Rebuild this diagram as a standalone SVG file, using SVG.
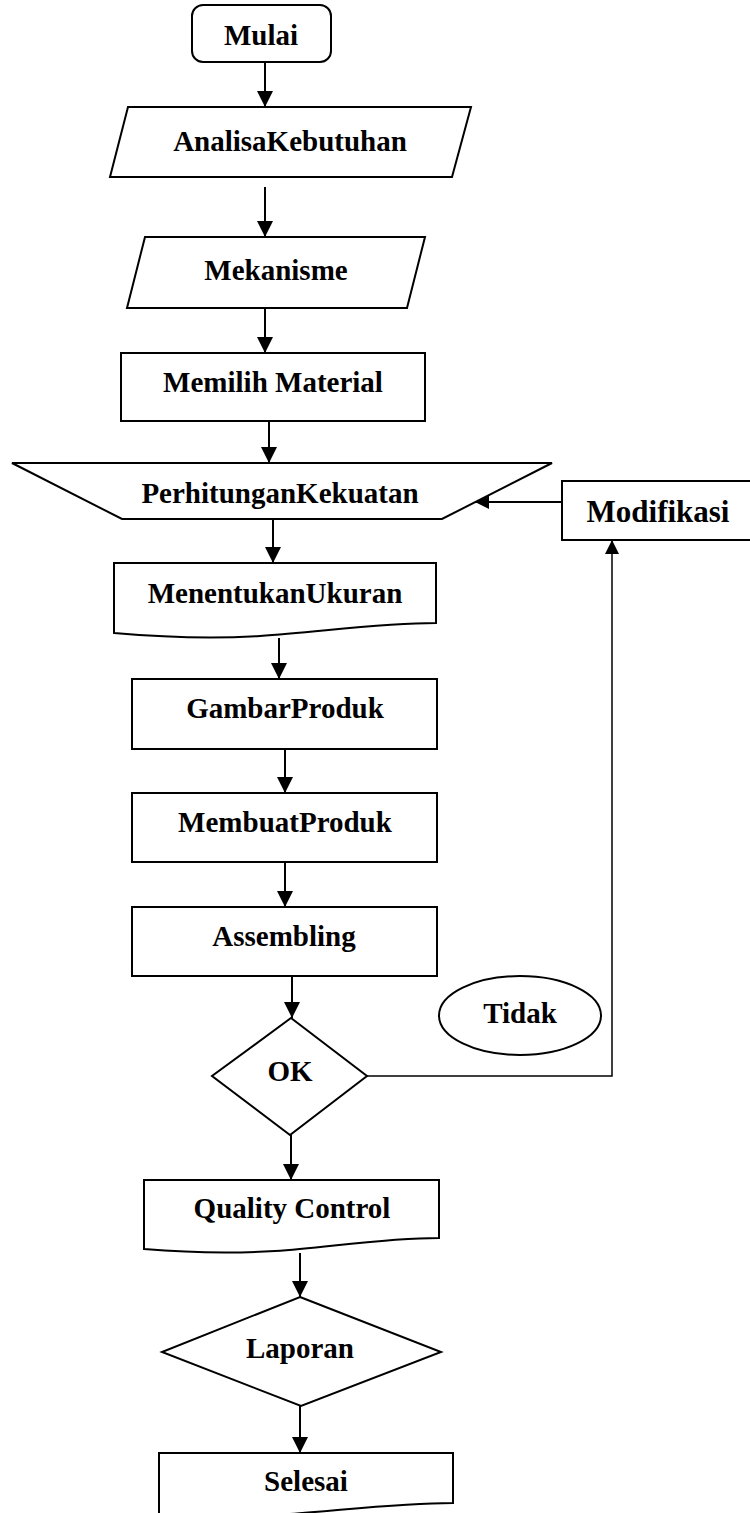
<svg xmlns="http://www.w3.org/2000/svg" width="750" height="1513" viewBox="0 0 750 1513">
  <style>
    .shape { fill: #fff; stroke: #000; stroke-width: 2; }
    .label { font-family: "Liberation Serif", "Times New Roman", serif; font-weight: bold; font-size: 29px; fill: #000; text-anchor: middle; }
    .link { fill: none; stroke: #000; stroke-width: 2; }
    .thin { stroke-width: 1.5; }
  </style>
  <defs>
    <marker id="arrow" markerUnits="userSpaceOnUse" markerWidth="16" markerHeight="16" refX="16" refY="8" orient="auto">
      <path d="M0,0 L16,8 L0,16 Z" fill="#000"/>
    </marker>
    <marker id="arrow-small" markerUnits="userSpaceOnUse" markerWidth="14" markerHeight="14" refX="14" refY="7" orient="auto">
      <path d="M0,0 L14,7 L0,14 Z" fill="#000"/>
    </marker>
  </defs>
  <rect width="750" height="1513" fill="#fff"/>

  <g id="connectors">
    <line class="link" x1="265" y1="63" x2="265" y2="107" marker-end="url(#arrow)"/>
    <line class="link" x1="265" y1="187" x2="265" y2="237" marker-end="url(#arrow)"/>
    <line class="link" x1="265" y1="308" x2="265" y2="353" marker-end="url(#arrow)"/>
    <line class="link" x1="269" y1="421" x2="269" y2="463" marker-end="url(#arrow)"/>
    <line class="link" x1="273" y1="519" x2="273" y2="563" marker-end="url(#arrow)"/>
    <line class="link" x1="279" y1="638" x2="279" y2="679" marker-end="url(#arrow)"/>
    <line class="link" x1="285" y1="749" x2="285" y2="793" marker-end="url(#arrow)"/>
    <line class="link" x1="285" y1="862" x2="285" y2="907" marker-end="url(#arrow)"/>
    <line class="link" x1="292" y1="976" x2="292" y2="1018" marker-end="url(#arrow)"/>
    <line class="link" x1="291" y1="1135" x2="291" y2="1180" marker-end="url(#arrow)"/>
    <line class="link" x1="300" y1="1253" x2="300" y2="1297" marker-end="url(#arrow)"/>
    <line class="link" x1="300" y1="1406" x2="300" y2="1453" marker-end="url(#arrow)"/>
    <!-- rejection loop: OK -> Modifikasi -> Perhitungan Kekuatan -->
    <path class="link thin" d="M367,1076 H612 V540" marker-end="url(#arrow-small)"/>
    <line class="link" x1="562" y1="502" x2="475" y2="502" marker-end="url(#arrow-small)"/>
  </g>

  <g id="mulai">
    <rect class="shape" x="192" y="5" width="139" height="57" rx="11"/>
    <text class="label" x="261" y="45">Mulai</text>
  </g>

  <g id="analisa-kebutuhan">
    <polygon class="shape" points="128,107 471,107 452,177 110,177"/>
    <text class="label" x="290" y="151">AnalisaKebutuhan</text>
  </g>

  <g id="mekanisme">
    <polygon class="shape" points="145,237 425,237 407,308 127,308"/>
    <text class="label" x="276" y="280">Mekanisme</text>
  </g>

  <g id="memilih-material">
    <rect class="shape" x="121" y="353" width="304" height="68"/>
    <text class="label" x="273" y="392">Memilih Material</text>
  </g>

  <g id="perhitungan-kekuatan">
    <polygon class="shape" points="12,463 552,463 442,519 122,519"/>
    <text class="label" x="280" y="503">PerhitunganKekuatan</text>
  </g>

  <g id="modifikasi">
    <rect class="shape" x="562" y="481" width="200" height="59"/>
    <text class="label" x="658" y="522" style="font-size:31px">Modifikasi</text>
  </g>

  <g id="menentukan-ukuran">
    <path class="shape" d="M114,563 H436 V623 C380,623 320,632 260,636 C210,639 160,637 114,633 Z"/>
    <text class="label" x="275" y="603">MenentukanUkuran</text>
  </g>

  <g id="gambar-produk">
    <rect class="shape" x="132" y="679" width="305" height="70"/>
    <text class="label" x="285" y="718">GambarProduk</text>
  </g>

  <g id="membuat-produk">
    <rect class="shape" x="132" y="793" width="305" height="69"/>
    <text class="label" x="285" y="832">MembuatProduk</text>
  </g>

  <g id="assembling">
    <rect class="shape" x="132" y="907" width="305" height="69"/>
    <text class="label" x="284" y="946">Assembling</text>
  </g>

  <g id="ok">
    <polygon class="shape" points="291,1018 367,1076 290,1135 212,1076"/>
    <text class="label" x="290" y="1081">OK</text>
  </g>

  <g id="tidak">
    <ellipse class="shape" cx="520" cy="1015.5" rx="81" ry="39.5"/>
    <text class="label" x="520" y="1023">Tidak</text>
  </g>

  <g id="quality-control">
    <path class="shape" d="M144,1180 H439 V1238 C385,1238 330,1247 275,1251 C225,1254 180,1252 144,1249 Z"/>
    <text class="label" x="292" y="1218">Quality Control</text>
  </g>

  <g id="laporan">
    <polygon class="shape" points="300,1297 441,1352 301,1406 162,1352"/>
    <text class="label" x="300" y="1358">Laporan</text>
  </g>

  <g id="selesai">
    <path class="shape" d="M159,1453 H453 V1503 C400,1503 345,1510 290,1514 C240,1517 195,1516 159,1514 Z"/>
    <text class="label" x="306" y="1491">Selesai</text>
  </g>
</svg>
